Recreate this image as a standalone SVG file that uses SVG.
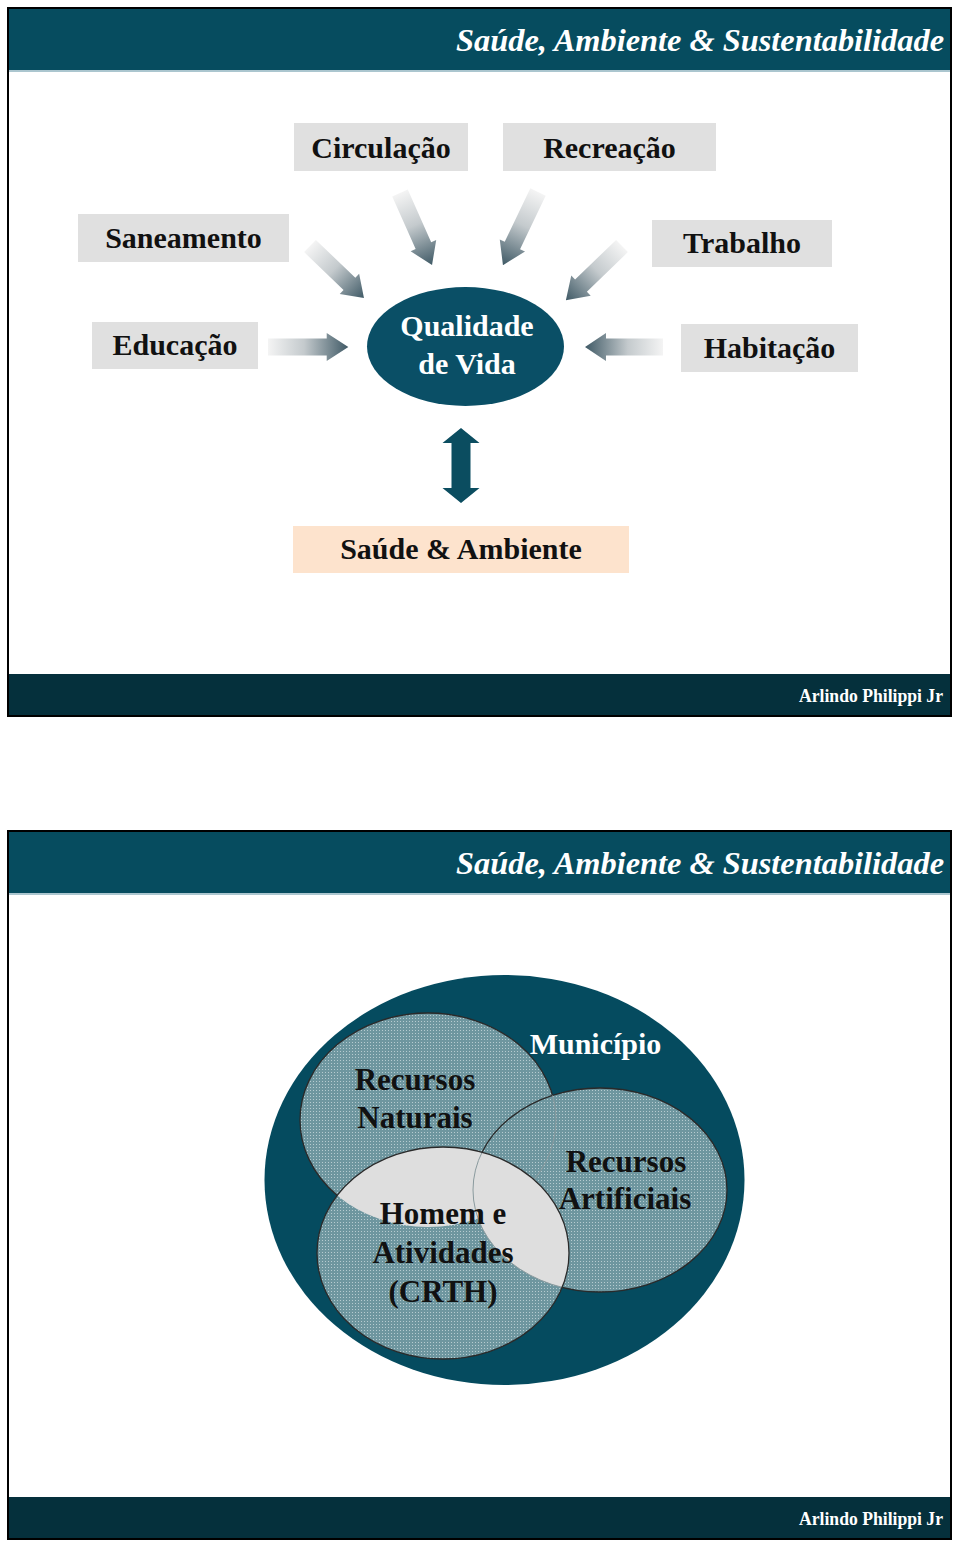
<svg xmlns="http://www.w3.org/2000/svg" width="960" height="1545" viewBox="0 0 960 1545">
<style>
.frame{fill:#ffffff;stroke:#000;stroke-width:2}
.hdr{fill:#064c5f}
.ftr{fill:#05303c}
.hline{stroke:#8fb3bf;stroke-width:1.5}
.htxt{font-family:"Liberation Serif",serif;font-style:italic;font-weight:bold;font-size:32px;fill:#fff}
.ftxt{font-family:"Liberation Serif",serif;font-weight:bold;font-size:18px;fill:#fff}
.box{fill:#e0e0e0}
.btxt{font-family:"Liberation Serif",serif;font-weight:bold;font-size:30px;fill:#111;text-anchor:middle}
.wtxt{font-family:"Liberation Serif",serif;font-weight:bold;font-size:30px;fill:#fff;text-anchor:middle}
.vtxt{font-family:"Liberation Serif",serif;font-weight:bold;font-size:31px;fill:#111;text-anchor:middle}
.dot{fill:url(#dots)}
.edge{fill:none;stroke:#2a2a2a;stroke-width:1.3}
.faint{fill:none;stroke:#8a9a9e;stroke-width:1}
</style>
<defs>
<linearGradient id="ag" x1="0" y1="0" x2="1" y2="0">
<stop offset="0" stop-color="#f4f4f4"/>
<stop offset="0.45" stop-color="#c4cacd"/>
<stop offset="1" stop-color="#405a66"/>
</linearGradient>
<path id="arr" d="M0,-8.5 H57 V-14 L78,0 L57,14 V8.5 H0 Z" fill="url(#ag)"/>
<pattern id="dots" patternUnits="userSpaceOnUse" width="3" height="3">
<rect width="3" height="3" fill="#6e969f"/>
<rect x="1" y="1" width="1" height="1" fill="#b6cbd0"/>
</pattern>
<clipPath id="natart">
<ellipse cx="428" cy="1120" rx="128" ry="107"/>
<ellipse cx="600" cy="1190" rx="127" ry="102"/>
</clipPath>
<clipPath id="artclip">
<ellipse cx="600" cy="1190" rx="127" ry="102"/>
</clipPath>
<clipPath id="homclip">
<ellipse cx="443" cy="1253" rx="126" ry="106"/>
</clipPath>
</defs>

<!-- Slide 1 -->
<g id="slide1">
<rect class="frame" x="8" y="8" width="943" height="708"/>
<rect class="hdr" x="9" y="9" width="941" height="61"/>
<line class="hline" x1="9" y1="71" x2="950" y2="71"/>
<text class="htxt" x="944" y="51" text-anchor="end" textLength="488" lengthAdjust="spacingAndGlyphs">Saúde, Ambiente &amp; Sustentabilidade</text>
<rect class="ftr" x="9" y="674" width="941" height="41"/>
<text class="ftxt" x="943" y="702" text-anchor="end" textLength="144" lengthAdjust="spacingAndGlyphs">Arlindo Philippi Jr</text>
</g>

<g id="connectors">
<use href="#arr" transform="translate(310,246) rotate(43.9) scale(0.96,1)"/>
<use href="#arr" transform="translate(400,193) rotate(66) scale(1.01,1)"/>
<use href="#arr" transform="translate(538,192) rotate(115.6) scale(1.04,1)"/>
<use href="#arr" transform="translate(622,246) rotate(136) scale(1,1)"/>
<use href="#arr" transform="translate(663,347) rotate(180)"/>
<use href="#arr" transform="translate(268,347) scale(1.03,1)"/>
<path d="M461,428 L479.5,443 H470.5 V488 H479.5 L461,503 L442.5,488 H451.5 V443 H442.5 Z" fill="#0b4d60"/>
</g>

<g id="n-circulacao"><rect class="box" x="294" y="123" width="174" height="48"/><text class="btxt" x="381" y="158">Circulação</text></g>
<g id="n-recreacao"><rect class="box" x="503" y="123" width="213" height="48"/><text class="btxt" x="609.5" y="158">Recreação</text></g>
<g id="n-saneamento"><rect class="box" x="78" y="214" width="211" height="48"/><text class="btxt" x="183.5" y="248">Saneamento</text></g>
<g id="n-trabalho"><rect class="box" x="652" y="220" width="180" height="47"/><text class="btxt" x="742" y="253">Trabalho</text></g>
<g id="n-educacao"><rect class="box" x="92" y="322" width="166" height="47"/><text class="btxt" x="175" y="355">Educação</text></g>
<g id="n-habitacao"><rect class="box" x="681" y="324" width="177" height="48"/><text class="btxt" x="769.5" y="358">Habitação</text></g>
<g id="n-qualidade"><ellipse cx="465.5" cy="346.5" rx="98.5" ry="59.5" fill="#0a4f66"/><text class="wtxt" x="467" y="336">Qualidade</text><text class="wtxt" x="467" y="374">de Vida</text></g>
<g id="n-saude"><rect x="293" y="526" width="336" height="47" fill="#fde3cd"/><text class="btxt" x="461" y="559">Saúde &amp; Ambiente</text></g>

<!-- Slide 2 -->
<g id="slide2">
<rect class="frame" x="8" y="831" width="943" height="708"/>
<rect class="hdr" x="9" y="832" width="941" height="61"/>
<line class="hline" x1="9" y1="894" x2="950" y2="894"/>
<text class="htxt" x="944" y="874" text-anchor="end" textLength="488" lengthAdjust="spacingAndGlyphs">Saúde, Ambiente &amp; Sustentabilidade</text>
<rect class="ftr" x="9" y="1497" width="941" height="41"/>
<text class="ftxt" x="943" y="1525" text-anchor="end" textLength="144" lengthAdjust="spacingAndGlyphs">Arlindo Philippi Jr</text>
</g>

<g id="n-municipio">
<ellipse cx="504.5" cy="1180" rx="240" ry="205" fill="#054b5f"/>
</g>
<g id="n-naturais">
<ellipse class="dot" cx="428" cy="1120" rx="128" ry="107"/>
<ellipse class="edge" cx="428" cy="1120" rx="128" ry="107"/>
</g>
<g id="n-artificiais">
<ellipse class="dot" cx="600" cy="1190" rx="127" ry="102"/>
<ellipse class="edge" cx="600" cy="1190" rx="127" ry="102"/>
<ellipse class="faint" cx="428" cy="1120" rx="128" ry="107" clip-path="url(#artclip)"/>
</g>
<g id="n-homem">
<ellipse class="dot" cx="443" cy="1253" rx="126" ry="106"/>
<g clip-path="url(#natart)"><ellipse cx="443" cy="1253" rx="126" ry="106" fill="#dedede"/></g>
<ellipse class="faint" cx="600" cy="1190" rx="127" ry="102" clip-path="url(#homclip)"/>
<ellipse class="edge" cx="443" cy="1253" rx="126" ry="106"/>
</g>
<g id="labels2">
<text class="wtxt" x="595.5" y="1054" font-size="31">Município</text>
<text class="vtxt" x="415" y="1090">Recursos</text>
<text class="vtxt" x="415" y="1128">Naturais</text>
<text class="vtxt" x="626" y="1172">Recursos</text>
<text class="vtxt" x="625" y="1209">Artificiais</text>
<text class="vtxt" x="443" y="1224">Homem e</text>
<text class="vtxt" x="443" y="1263">Atividades</text>
<text class="vtxt" x="443" y="1302">(CRTH)</text>
</g>
</svg>
